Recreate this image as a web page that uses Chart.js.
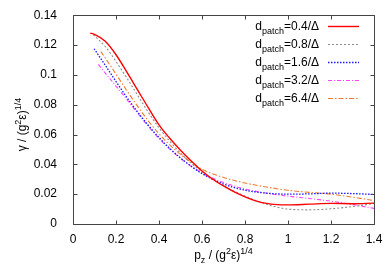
<!DOCTYPE html>
<html><head><meta charset="utf-8">
<script src="https://cdn.jsdelivr.net/npm/chart.js@4"></script>
<style>html,body{margin:0;padding:0;background:#fff}canvas{display:block}</style>
</head><body>
<canvas id="c" width="392" height="275"></canvas>
<script>
const xTicks = [0, 0.2, 0.4, 0.6, 0.8, 1.0, 1.2, 1.4];
const xTickLabels = ['0', '0.2', '0.4', '0.6', '0.8', '1', '1.2', '1.4'];
const yTicks = [0, 0.02, 0.04, 0.06, 0.08, 0.10, 0.12, 0.14];
const yTickLabels = ['0', '0.02', '0.04', '0.06', '0.08', '0.1', '0.12', '0.14'];
const patchSizes = ['0.4', '0.8', '1.6', '3.2', '6.4'];

const pz04 = [0.08, 0.1, 0.15, 0.2, 0.25, 0.3, 0.35, 0.4, 0.45, 0.5, 0.55, 0.6, 0.65, 0.7, 0.75, 0.8, 0.85, 0.9, 0.95, 1.0, 1.1, 1.2, 1.3, 1.4];
const gamma04 = [0.128, 0.1272, 0.1225, 0.1135, 0.102, 0.090, 0.078, 0.0665, 0.0575, 0.0495, 0.0422, 0.0355, 0.0300, 0.0255, 0.0215, 0.0182, 0.0155, 0.0138, 0.0130, 0.0128, 0.0133, 0.0138, 0.0136, 0.0140];

const pz08 = [0.094, 0.15, 0.2, 0.25, 0.3, 0.35, 0.4, 0.45, 0.5, 0.55, 0.6, 0.65, 0.7, 0.75, 0.8, 0.85, 0.9, 0.95, 1.0, 1.1, 1.2, 1.3, 1.4];
const gamma08 = [0.127, 0.119, 0.109, 0.098, 0.0865, 0.075, 0.0645, 0.0555, 0.0475, 0.0408, 0.035, 0.030, 0.0257, 0.022, 0.0188, 0.0158, 0.0133, 0.0113, 0.0100, 0.0095, 0.0102, 0.0117, 0.0137];

const pz16 = [0.098, 0.15, 0.2, 0.25, 0.3, 0.35, 0.4, 0.45, 0.5, 0.55, 0.6, 0.7, 0.8, 0.9, 1.0, 1.1, 1.2, 1.3, 1.4];
const gamma16 = [0.1175, 0.1065, 0.0955, 0.0850, 0.0752, 0.0662, 0.0580, 0.0507, 0.0443, 0.0387, 0.0338, 0.0268, 0.0227, 0.0207, 0.0200, 0.0202, 0.0207, 0.0204, 0.0198];

const pz32 = [0.118, 0.15, 0.2, 0.25, 0.3, 0.35, 0.4, 0.45, 0.5, 0.55, 0.6, 0.7, 0.8, 0.9, 1.0, 1.1, 1.2, 1.3, 1.4];
const gamma32 = [0.107, 0.1012, 0.0925, 0.0835, 0.0745, 0.0655, 0.0573, 0.0502, 0.0440, 0.0387, 0.0342, 0.0278, 0.0235, 0.0206, 0.0187, 0.0171, 0.0153, 0.0130, 0.0105];

const pz64 = [0.129, 0.15, 0.2, 0.25, 0.3, 0.35, 0.4, 0.45, 0.5, 0.55, 0.6, 0.7, 0.8, 0.9, 1.0, 1.1, 1.2, 1.3, 1.4];
const gamma64 = [0.1157, 0.1113, 0.1005, 0.0895, 0.079, 0.0692, 0.0605, 0.0530, 0.0467, 0.0413, 0.0367, 0.0312, 0.0275, 0.0248, 0.0226, 0.0212, 0.0200, 0.0180, 0.0157];

const FONT = '"Liberation Sans", Arial, Helvetica, sans-serif';

function pts(xs, ys) { return xs.map((x, i) => ({ x: x, y: ys[i] })); }

const seriesStyles = [
  { color: '#ff0000', dash: [], width: 1.4 },
  { color: '#8c8c8c', dash: [2, 2], width: 1.1 },
  { color: '#1a1aff', dash: [1.5, 1.5], width: 1.3 },
  { color: '#ff44ff', dash: [4, 2, 1, 2], width: 1.1 },
  { color: '#f07a30', dash: [5, 2, 1.5, 2], width: 1.1 }
];
const seriesData = [pts(pz04, gamma04), pts(pz08, gamma08), pts(pz16, gamma16), pts(pz32, gamma32), pts(pz64, gamma64)];

function richWidth(ctx, segs, size) {
  let w = 0;
  for (const [t, k] of segs) {
    ctx.font = (k === 'n' ? size : Math.round(size * 0.75)) + 'px ' + FONT;
    w += ctx.measureText(t).width;
  }
  return w;
}
function drawRich(ctx, segs, x, y, size) {
  let cx = x;
  for (const [t, k] of segs) {
    const s = k === 'n' ? size : Math.round(size * 0.75);
    ctx.font = s + 'px ' + FONT;
    const dy = k === 'sub' ? size * 0.3 : (k === 'sup' ? -size * 0.42 : 0);
    ctx.fillText(t, cx, y + dy);
    cx += ctx.measureText(t).width;
  }
  return cx;
}

const framePlugin = {
  id: 'frame',
  afterDraw(chart) {
    const ctx = chart.ctx;
    const a = chart.chartArea;
    const xs = chart.scales.x, ys = chart.scales.y;
    const L = Math.round(a.left) + 0.5, R = Math.round(a.right) + 0.5;
    const T = Math.round(a.top) + 0.5, B = Math.round(a.bottom) + 0.5;
    ctx.save();
    ctx.strokeStyle = '#444';
    ctx.lineWidth = 1;
    ctx.beginPath();
    ctx.rect(L, T, R - L, B - T);
    const tl = 4;
    xTicks.forEach(v => {
      const px = Math.round(xs.getPixelForValue(v)) + 0.5;
      ctx.moveTo(px, B); ctx.lineTo(px, B - tl);
      ctx.moveTo(px, T); ctx.lineTo(px, T + tl);
    });
    yTicks.forEach(v => {
      const py = Math.round(ys.getPixelForValue(v)) + 0.5;
      ctx.moveTo(L, py); ctx.lineTo(L + tl, py);
      ctx.moveTo(R, py); ctx.lineTo(R - tl, py);
    });
    ctx.stroke();

    ctx.fillStyle = '#000';
    ctx.textBaseline = 'alphabetic';
    const size = 12;
    patchSizes.forEach((p, i) => {
      const yc = 26 + 18 * i;
      const segs = [['d', 'n'], ['patch', 'sub'], ['=' + p + '/\u0394', 'n']];
      const w = richWidth(ctx, segs, size);
      drawRich(ctx, segs, 319 - w, yc + 4, size);
      const st = seriesStyles[i];
      ctx.strokeStyle = st.color;
      ctx.lineWidth = st.width;
      ctx.setLineDash(st.dash);
      ctx.beginPath();
      ctx.moveTo(328, yc + 0.5); ctx.lineTo(359, yc + 0.5);
      ctx.stroke();
      ctx.setLineDash([]);
    });

    const xt = [['p', 'n'], ['z', 'sub'], [' / (g', 'n'], ['2', 'sup'], ['\u03b5)', 'n'], ['1/4', 'sup']];
    const xw = richWidth(ctx, xt, size);
    drawRich(ctx, xt, (a.left + a.right) / 2 - xw / 2, 259, size);

    const yt = [['\u03b3 / (g', 'n'], ['2', 'sup'], ['\u03b5)', 'n'], ['1/4', 'sup']];
    const yw = richWidth(ctx, yt, size);
    ctx.translate(26, (a.top + a.bottom) / 2 + 5);
    ctx.rotate(-Math.PI / 2);
    drawRich(ctx, yt, -yw / 2, 0, size);
    ctx.restore();
  }
};

new Chart(document.getElementById('c'), {
  type: 'line',
  data: {
    datasets: seriesData.map((d, i) => ({
      label: 'd_patch=' + patchSizes[i] + '/\u0394',
      data: d,
      borderColor: seriesStyles[i].color,
      borderWidth: seriesStyles[i].width,
      borderDash: seriesStyles[i].dash,
      pointRadius: 0,
      fill: false,
      tension: 0.4,
      cubicInterpolationMode: 'monotone'
    }))
  },
  options: {
    responsive: false,
    animation: false,
    devicePixelRatio: 1,
    layout: { padding: { left: 0, right: 18, top: 15, bottom: 0 } },
    plugins: { legend: { display: false }, tooltip: { enabled: false } },
    scales: {
      x: {
        type: 'linear', min: 0, max: 1.4,
        afterBuildTicks: s => { s.ticks = xTicks.map(v => ({ value: v })); },
        afterFit: s => { s.height = 51; },
        grid: { display: false },
        border: { display: false },
        ticks: { callback: (v, i) => xTickLabels[i], color: '#000', font: { family: FONT, size: 12 }, padding: 0, maxRotation: 0, autoSkip: false }
      },
      y: {
        type: 'linear', min: 0, max: 0.14,
        afterBuildTicks: s => { s.ticks = yTicks.map(v => ({ value: v })); },
        afterFit: s => { s.width = 73; },
        grid: { display: false },
        border: { display: false },
        ticks: { callback: (v, i) => yTickLabels[i], color: '#000', font: { family: FONT, size: 12 }, padding: 8, autoSkip: false }
      }
    }
  },
  plugins: [framePlugin]
});
</script>
</body></html>
